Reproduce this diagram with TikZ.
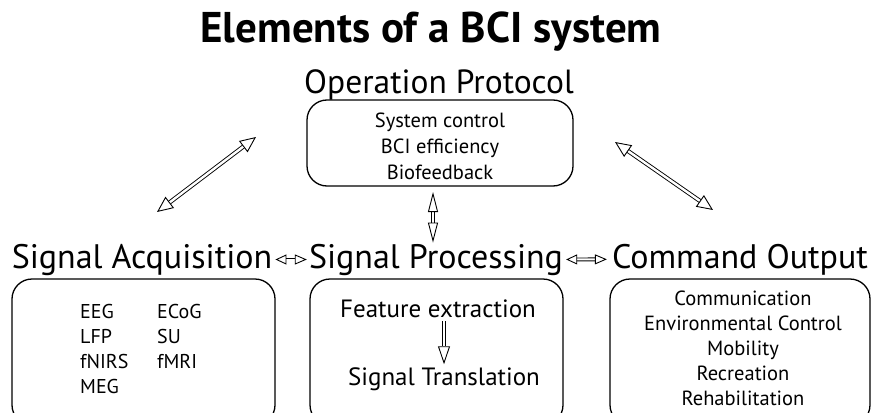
\documentclass[tikz,border=0pt]{standalone}
\usepackage{fontspec}
\setmainfont{PT Sans}
\usetikzlibrary{arrows.meta, positioning, calc}

\begin{document}
\begin{tikzpicture}[
  x=1pt, y=-1pt,
  every node/.style={inner sep=0pt},
  heading/.style={font=\fontsize{34}{36}\selectfont},
  panel/.style={draw, line width=1.3pt, rounded corners=20pt},
  item/.style={font=\fontsize{20.5}{26}\selectfont, align=center},
  dbl/.style={double=white, double distance=2.4pt, line width=0.9pt,
              {Triangle[open, length=16pt, width=14pt]}-{Triangle[open, length=16pt, width=14pt]}},
  vdbl/.style={double=white, double distance=2pt, line width=0.9pt,
              {Triangle[open, length=20pt, width=10pt]}-{Triangle[open, length=20pt, width=10pt]}},
  hdbl/.style={double=white, double distance=2pt, line width=0.9pt,
              {Triangle[open, length=11pt, width=10pt]}-{Triangle[open, length=12pt, width=10pt]}},
  sdbl/.style={double=white, double distance=2pt, line width=0.9pt,
              -{Triangle[open, length=18pt, width=12pt]}},
]
  \useasboundingbox (0,0) rectangle (874,412);

  % title and the protocol block
  \node[anchor=base, font=\bfseries\fontsize{43}{46}\selectfont] (title) at (431,43) {Elements of a BCI system};
  \node[anchor=base, font=\fontsize{33.5}{36}\selectfont] (oplabel) at (439,93) {Operation Protocol};
  \draw[panel] (307,100) rectangle (573,186);
  \node[item] (optext) at (440,146) {System control\\BCI efficiency\\Biofeedback};
  \coordinate (opbox) at (440,186);

  % the three stages
  \node[heading, anchor=base] (acq) at (142,268) {Signal Acquisition};
  \node[heading, anchor=base] (proc) at (436,268) {Signal Processing};
  \node[heading, anchor=base] (cmd) at (740,268) {Command Output};

  \draw[panel] (12,279) rectangle (275,425);
  \draw[panel] (310,279) rectangle (563,425);
  \draw[panel] (610,279) rectangle (870,425);

  % acquisition modalities
  \node[item, align=left, font=\fontsize{20}{25}\selectfont, anchor=north west] (mod1) at (80,304)
    {EEG\\LFP\\fNIRS\\MEG};
  \node[item, align=left, font=\fontsize{20}{25}\selectfont, anchor=north west] (mod2) at (157,304)
    {ECoG\\SU\\fMRI};

  % processing chain
  \node[font=\fontsize{25}{28}\selectfont] (feat) at (438,309) {Feature extraction};
  \node[font=\fontsize{25}{28}\selectfont] (trans) at (444,379) {Signal Translation};
  \draw[sdbl, shorten <=3pt, shorten >=3pt] (feat.south -| trans) -- (trans.north);

  % applications
  \node[item, font=\fontsize{20.5}{25}\selectfont] (apps) at (743,348)
    {Communication\\Environmental Control\\Mobility\\Recreation\\Rehabilitation};

  % links between the blocks
  \coordinate (sa-lo) at (157,212);
  \coordinate (sa-hi) at (256,137);
  \coordinate (co-hi) at (615,142);
  \coordinate (co-lo) at (713,210);
  \draw[dbl] (sa-lo) -- (sa-hi);
  \draw[dbl] (co-hi) -- (co-lo);
  \draw[vdbl, shorten <=6pt, shorten >=1pt] ([xshift=-7pt]opbox) -- ([xshift=-7pt]opbox |- proc.north);
  \draw[hdbl, shorten <=3pt, shorten >=2pt] (acq.east) -- (proc.west);
  \draw[hdbl, shorten <=3pt, shorten >=5pt] (proc.east) -- (cmd.west);
\end{tikzpicture}
\end{document}
